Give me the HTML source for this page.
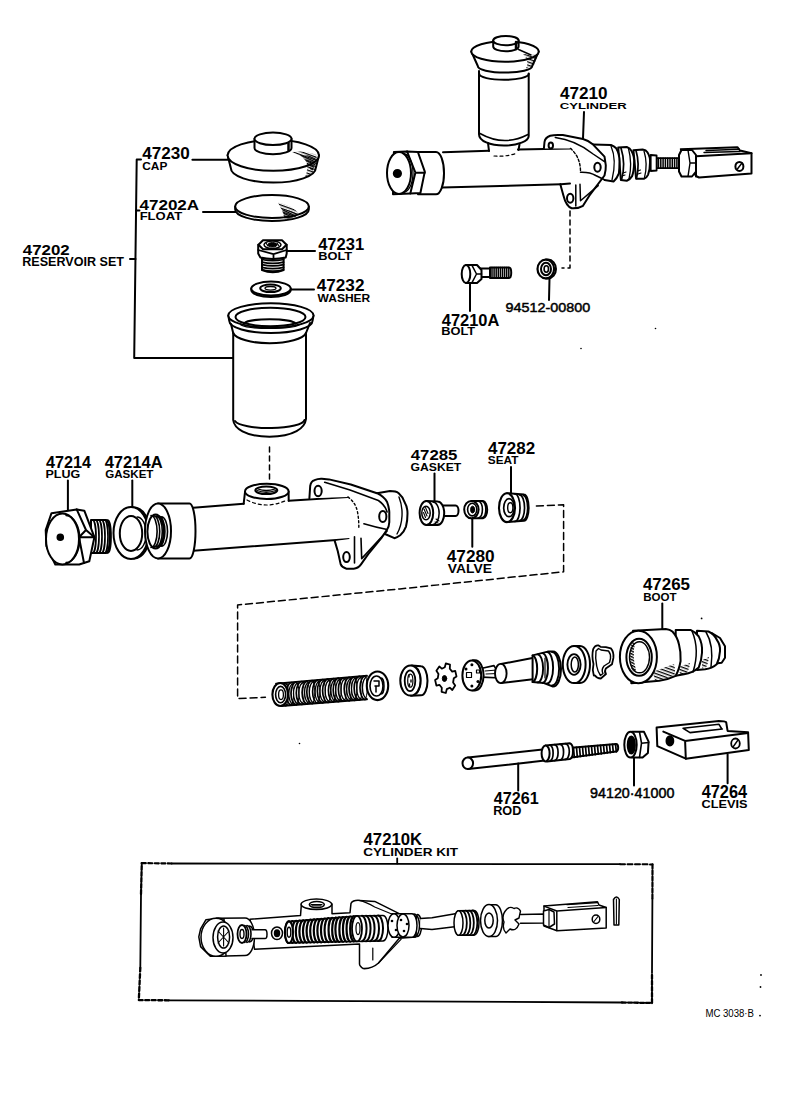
<!DOCTYPE html>
<html><head><meta charset="utf-8"><style>
html,body{margin:0;padding:0;background:#fff;}
svg{display:block;}
text{font-family:"Liberation Sans",sans-serif;fill:#000;}
</style></head><body>
<svg width="792" height="1098" viewBox="0 0 792 1098">
<defs>
<pattern id="h1" width="3" height="3" patternUnits="userSpaceOnUse" patternTransform="rotate(20)"><rect width="3" height="1.3" fill="#000"/></pattern>
<pattern id="h2" width="2.6" height="2.6" patternUnits="userSpaceOnUse" patternTransform="rotate(25)"><rect width="2.6" height="1.4" fill="#000"/></pattern>
<pattern id="d1" width="3" height="3" patternUnits="userSpaceOnUse"><rect x="0.5" y="0.5" width="1.2" height="1.2" fill="#000"/></pattern>
</defs>
<rect width="792" height="1098" fill="#fff"/>
<g fill="none" stroke="#000" stroke-width="2" stroke-linecap="round" stroke-linejoin="round">
<!-- ===== RESERVOIR SET (left column) ===== -->
<g id="bracket">
<path d="M141 159.6 H136.7 L134.2 358 H233"/>
<path d="M136.1 210.5 H139.5"/>
<path d="M130 259 H135.5"/>
<path d="M192.4 159.7 H228"/>
<path d="M203 212 H235.5"/>
<path d="M286.7 251 H315"/>
<path d="M290.7 289.6 H314"/>
</g>
<g id="cap">
<path d="M227.6 155.3 L230.8 168 A42.5 14.6 0 0 0 315.8 168 L319 155.3" fill="#fff"/>
<ellipse cx="273.3" cy="155.3" rx="45.7" ry="15.5" fill="#fff"/>
<path d="M254.5 138.8 V148 A18.5 6.2 0 0 0 291.5 148 V138.8" fill="#fff"/>
<ellipse cx="273" cy="138.8" rx="18.5" ry="6.2" fill="#fff"/>
<path d="M288.5 143 V150" stroke-width="2.5"/>
<path d="M292 152 Q305 150 316.5 155 Q318 163 314 172 Q310 176 305 177.5 Q309 168 306 160 Q300 155 292 152 Z" fill="url(#h1)" stroke="none"/>
<path d="M300 155 Q310 155 316 157 Q316 165 312 172 Q308 166 305 160 Z" fill="url(#h2)" stroke="none"/>
</g>
<g id="float">
<path d="M235.2 206.5 V209.5 A36.8 11.5 0 0 0 308.8 209.5 V206.5" fill="#fff"/>
<ellipse cx="272" cy="206.5" rx="36.8" ry="11.5" fill="#fff"/>
<path d="M278 202.5 Q291 205 299 213.5 Q297 218 285 219.5 Q283 211 278 202.5 Z" fill="url(#h1)" stroke="none"/>
<path d="M282 209 Q292 210 297.5 215 Q293 218.5 285 219 Z" fill="url(#h2)" stroke="none"/>
</g>
<g id="bolt47231">
<path d="M262 258 V270 Q272.8 274.5 283.6 270 V258" fill="#fff"/>
<path d="M262 259.5 Q272.8 262.0 283.6 259.5 M262 262.1 Q272.8 264.6 283.6 262.1 M262 264.7 Q272.8 267.2 283.6 264.7 M262 267.3 Q272.8 269.8 283.6 267.3 M262 269.9 Q272.8 272.4 283.6 269.9" stroke-width="1.7"/>
<path d="M258.2 244.8 V253.5 L260.4 257.5 Q272.5 260.5 285.7 257.5 L286.7 253.5 V244.8" fill="#fff"/>
<path d="M258.2 250 L273.5 254.2 L286.7 250 M273.5 254.2 V259" stroke-width="1.8"/>
<path d="M258.5 244.8 L263 240.3 L282 240.3 L286.5 244.8 L282 249.3 L263 249.3 Z" fill="#fff"/>
<ellipse cx="272.5" cy="244.8" rx="8.5" ry="3.8" stroke-width="1.5"/>
<ellipse cx="272.5" cy="244.8" rx="4.5" ry="2.2" fill="#000" stroke-width="1"/>
<path d="M266 243 l2 3 M277 243 l2 3" stroke-width="1.2"/>
</g>
<g id="washer47232">
<path d="M251.3 288.6 V290 A19.7 7 0 0 0 290.7 290 V288.6" fill="#fff"/>
<ellipse cx="271" cy="288.6" rx="19.7" ry="7" fill="#fff"/>
<ellipse cx="270.5" cy="288.3" rx="10.3" ry="3.8"/>
<ellipse cx="270.5" cy="288.3" rx="5.5" ry="1.8" stroke-width="1.3"/>
</g>
<g id="reservoir">
<path d="M228.3 315.5 L229.3 321 A41.5 12 0 0 0 312.5 321 L313.5 315.5" fill="#fff"/>
<ellipse cx="270.9" cy="315.5" rx="42.6" ry="12.2" fill="#fff"/>
<ellipse cx="270.5" cy="317" rx="35" ry="9.2"/>
<path d="M244 323.5 A26 5 0 0 1 295.5 323.5" />
<path d="M241 325 A30 4.5 0 0 0 299 325" stroke-width="1.4"/>
<path d="M231 324 L233.2 333 A36.8 12 0 0 0 306 333 L310 323"/>
<path d="M233.2 333 V420 C234 428 245 436.7 269.5 436.7 C294 436.7 305 428 306 419 V333"/>
<path d="M235 421 A35 8.5 0 0 0 304.5 420"/>
</g>
<path d="M269.5 447 V482" stroke-dasharray="5 4" stroke-width="1.5"/>
<!-- ===== MIDDLE: PLUG, GASKET, BODY ===== -->
<g id="leaders-mid">
<path d="M67.9 480.4 V510.7"/>
<path d="M132.3 480.4 V508"/>
<path d="M434.5 473.6 V501"/>
<path d="M511 467 V494.5"/>
<path d="M472.3 519.5 V546.8"/>
</g>
<g id="plug">
<path d="M91 520 H106 A4 16.5 0 0 1 106 553 H91 Z" fill="#fff"/>
<path d="M92.5 520 A3.5 16.5 0 0 1 92.5 553 M95.5 520 A3.5 16.5 0 0 1 95.5 553 M98.5 520 A3.5 16.5 0 0 1 98.5 553 M101.5 520 A3.5 16.5 0 0 1 101.5 553 M104.5 520 A3.5 16.5 0 0 1 104.5 553 M107.5 520 A3.5 16.5 0 0 1 107.5 553" stroke-width="1.7"/>
<path d="M51.5 513.2 L76.7 509.4 L84.3 510.7 L94.4 537.2 L89.3 561.2 L79.2 564.5 L55.3 564.5 L46.4 546 L45.7 530 Z" fill="#fff"/>
<ellipse cx="62.5" cy="539" rx="16.5" ry="25.5" fill="#fff"/>
<path d="M66 515.5 A13.5 23 0 0 1 66 562.5" stroke-width="1.4"/>
<path d="M79 537.2 H94.4 M76.7 509.4 L86 530 L79 537.2 M86 530 L94.4 537.2 M79 537.2 L84 563"/>
<circle cx="60.3" cy="537.2" r="2.8" fill="#000"/>
</g>
<g id="gasket47214A">
<ellipse cx="134" cy="533" rx="16" ry="25.5" fill="#fff"/>
<ellipse cx="131" cy="533" rx="17.5" ry="26" fill="#fff"/>
<ellipse cx="131" cy="533.4" rx="11.2" ry="17.5"/>
<path d="M137 517 A9 16 0 0 1 137 550" stroke-width="1.3"/>
</g>
<g id="body">
<path d="M190 508 L243.7 503.7 L245 493.6 L288.6 493 L288.7 500.8 L347.9 496.9 L349.4 539 L190 551 Z" fill="#fff" stroke="none"/>
<path d="M190 508 L243.7 503.7 M190 551 L349.4 539 M288.7 500.8 L347.9 496.9"/>
<path d="M243.7 503.7 L245 492 M288.6 491.6 L288.7 500.8"/>
<ellipse cx="266.8" cy="491.4" rx="21.8" ry="7.6" fill="#fff"/>
<ellipse cx="266.3" cy="490.3" rx="11" ry="3.8" fill="#fff"/>
<path d="M257 490.5 Q266 494 276 490.5 M258 489 Q266 492 275 489" stroke-width="1.3"/>
<path d="M247 500 Q266 510 287 500" stroke-dasharray="3 3" stroke-width="1.2"/>
<path d="M158 503.5 H189.5 A6 27.5 0 0 1 189.5 558.5 H158" fill="#fff"/>
<ellipse cx="158" cy="531" rx="13" ry="27.5" fill="#fff"/>
<ellipse cx="155.6" cy="531.5" rx="8.2" ry="17" fill="#fff"/>
<path d="M151.0 515.5 A6 15.7 0 0 1 151.0 547.5 M153.6 515.8 A6 15.4 0 0 1 153.6 547.2 M156.2 516.1 A6 15.1 0 0 1 156.2 546.9 M158.8 516.4 A6 14.8 0 0 1 158.8 546.6 M161.4 516.7 A6 14.5 0 0 1 161.4 546.3" stroke-width="1.6"/>
</g>
<g id="flange-mid">
<path d="M377 493.2 L390 491 Q396 491 398.7 493.2 Q403 497 404.5 502 Q407.5 507 407.5 513.6 Q407.5 521 406 526.6 Q404 532 400.2 535.3 Q397 537.5 394.4 538.2 L385 534 Z" fill="#fff"/>
<path d="M399 497 Q402.5 506 402 516 Q401.5 526 397 534" stroke-width="1.4"/>
<path d="M309.4 498.3 L310.2 486 Q311 481 314.5 480.2 Q318 478.5 321.8 478.7 L329 479.4 L350.8 484.5 L377 493.2 Q384 496.5 387.1 502 Q389 507 389.3 512 L389.3 522.3 Q389 527 387.1 529.5 L381.3 538.2 L368.2 554.2 L361 564.4 Q358 568.5 353.7 568.7 L346.5 568.7 Q342 567.5 340.7 564.4 L337.8 551.3 L334.8 541.1 L349.4 539 L347.9 496.9 Z" fill="#fff" stroke="none"/>
<path d="M309.4 498.3 L310.2 486 Q311 481 314.5 480.2 Q318 478.5 321.8 478.7 L329 479.4 L350.8 484.5 L377 493.2 Q384 496.5 387.1 502 Q389 507 389.3 512 L389.3 522.3 Q389 527 387.1 529.5 L381.3 538.2 L368.2 554.2 L361 564.4 Q358 568.5 353.7 568.7 L346.5 568.7 Q342 567.5 340.7 564.4 L337.8 551.3 L334.8 541.1"/>
<path d="M324.7 482.3 L350 490 L378.4 500.5 Q385 505 387.1 512" stroke-width="1.6"/>
<path d="M347.9 496.9 Q356 503 357.5 512 Q359 520 358.8 528.1" stroke-dasharray="2 2.5" stroke-width="1.4"/>
<path d="M363.9 523.7 Q375 527 387.1 529.5" stroke-width="1.6"/>
<path d="M361 538.2 L361.7 558.6 L387.1 531 M354.5 536.8 L354.5 563" stroke-width="1.6"/>
<ellipse cx="318.1" cy="491" rx="3.6" ry="5.2"/>
<ellipse cx="382.8" cy="516.5" rx="3.6" ry="5.5"/>
<ellipse cx="346.5" cy="557.1" rx="3.3" ry="5"/>
</g>
<g id="gasket47285">
<path d="M441 505.4 H455.5 A3 5.3 0 0 1 455.5 516 H441" fill="#fff"/>
<path d="M426.4 500.9 L437.7 501.6 A6.5 11.7 0 0 1 437.7 525 L426.4 525.1" fill="#fff"/>
<path d="M433 502 A6 11 0 0 1 433 524.5" stroke-width="1.5"/>
<ellipse cx="426.4" cy="513" rx="6.8" ry="12.1" fill="#fff"/>
<ellipse cx="426" cy="513" rx="4.2" ry="6.8" stroke-width="1.5"/>
<path d="M424 509 l3 7 M425.5 507.5 l2.5 6 M423.5 512.5 l2 5" stroke-width="1.1"/>
<path d="M436 519 l3 2 M435 522 l3 1" stroke-width="1.1"/>
</g>
<g id="valve47280">
<path d="M471.4 500.9 L483 501 A4.7 8.7 0 0 1 483 518.3 L471.4 518.3" fill="#fff"/>
<path d="M478.6 501.2 A4.5 8.5 0 0 1 478.6 518 M482 501.2 A4.5 8.5 0 0 1 482 518" stroke-width="1.6"/>
<ellipse cx="471.4" cy="509.6" rx="7.2" ry="8.7" fill="#fff"/>
<ellipse cx="472.2" cy="509.6" rx="4.6" ry="6.3" stroke-width="1.6"/>
<ellipse cx="472.6" cy="509.6" rx="2" ry="3.4" fill="#000" stroke-width="1"/>
</g>
<g id="seat47282">
<path d="M507 493.3 L524 494.5 A4.6 13 0 0 1 524 520.8 L507 522.1" fill="#fff"/>
<path d="M515 494 A5 13.6 0 0 1 515 521.4 M519.5 494.8 A5 12.8 0 0 1 519.5 520.6 M523.5 495.5 A4.6 12.3 0 0 1 523.5 520" stroke-width="1.7"/>
<ellipse cx="507" cy="507.7" rx="8" ry="14.4" fill="#fff" stroke-width="2.1"/>
<ellipse cx="509" cy="507.7" rx="5.3" ry="9" stroke-width="1.7"/>
<ellipse cx="510.3" cy="507.7" rx="2.6" ry="5" stroke-width="1.4"/>
</g>
<path d="M536.4 506 L563.6 504.8 L563.6 571.8 L400 588.9 L237.6 605 L237.6 698.6 L265.4 697.3" stroke-dasharray="7 4" stroke-width="1.5"/>
<!-- ===== SPRING / PISTON ROW ===== -->
<g id="spring"><path d="M275 683.8 L367 675.6 L367 699.4 L281.4 706 Z" fill="#fff" stroke="none"/>
<path d="M276 683.7 L367 675.6 M281.4 706 L367 699.4" stroke-width="1.8"/>
<path d="M286.0 683.0 A5.5 11.3 0 0 0 286.0 705.6" stroke-width="1.7"/>
<path d="M288.0 683.8 A5 10.5 0 0 0 288.0 704.8" stroke-width="1.3"/>
<path d="M286.0 683.0 A2.5 11.3 0 0 1 286.0 705.6" stroke-width="1"/>
<path d="M291.3 682.5 A5.5 11.4 0 0 0 291.3 705.2" stroke-width="1.7"/>
<path d="M293.3 683.3 A5 10.6 0 0 0 293.3 704.4" stroke-width="1.3"/>
<path d="M291.3 682.5 A2.5 11.4 0 0 1 291.3 705.2" stroke-width="1"/>
<path d="M296.5 682.0 A5.5 11.4 0 0 0 296.5 704.8" stroke-width="1.7"/>
<path d="M298.5 682.8 A5 10.6 0 0 0 298.5 704.0" stroke-width="1.3"/>
<path d="M296.5 682.0 A2.5 11.4 0 0 1 296.5 704.8" stroke-width="1"/>
<path d="M301.8 681.5 A5.5 11.4 0 0 0 301.8 704.4" stroke-width="1.7"/>
<path d="M303.8 682.3 A5 10.6 0 0 0 303.8 703.6" stroke-width="1.3"/>
<path d="M301.8 681.5 A2.5 11.4 0 0 1 301.8 704.4" stroke-width="1"/>
<path d="M307.1 681.1 A5.5 11.5 0 0 0 307.1 704.0" stroke-width="1.7"/>
<path d="M309.1 681.9 A5 10.7 0 0 0 309.1 703.2" stroke-width="1.3"/>
<path d="M307.1 681.1 A2.5 11.5 0 0 1 307.1 704.0" stroke-width="1"/>
<path d="M312.3 680.6 A5.5 11.5 0 0 0 312.3 703.6" stroke-width="1.7"/>
<path d="M314.3 681.4 A5 10.7 0 0 0 314.3 702.8" stroke-width="1.3"/>
<path d="M312.3 680.6 A2.5 11.5 0 0 1 312.3 703.6" stroke-width="1"/>
<path d="M317.6 680.1 A5.5 11.6 0 0 0 317.6 703.2" stroke-width="1.7"/>
<path d="M319.6 680.9 A5 10.8 0 0 0 319.6 702.4" stroke-width="1.3"/>
<path d="M317.6 680.1 A2.5 11.6 0 0 1 317.6 703.2" stroke-width="1"/>
<path d="M322.9 679.6 A5.5 11.6 0 0 0 322.9 702.8" stroke-width="1.7"/>
<path d="M324.9 680.4 A5 10.8 0 0 0 324.9 702.0" stroke-width="1.3"/>
<path d="M322.9 679.6 A2.5 11.6 0 0 1 322.9 702.8" stroke-width="1"/>
<path d="M328.1 679.2 A5.5 11.6 0 0 0 328.1 702.4" stroke-width="1.7"/>
<path d="M330.1 680.0 A5 10.8 0 0 0 330.1 701.6" stroke-width="1.3"/>
<path d="M328.1 679.2 A2.5 11.6 0 0 1 328.1 702.4" stroke-width="1"/>
<path d="M333.4 678.7 A5.5 11.7 0 0 0 333.4 702.0" stroke-width="1.7"/>
<path d="M335.4 679.5 A5 10.9 0 0 0 335.4 701.2" stroke-width="1.3"/>
<path d="M333.4 678.7 A2.5 11.7 0 0 1 333.4 702.0" stroke-width="1"/>
<path d="M338.7 678.2 A5.5 11.7 0 0 0 338.7 701.6" stroke-width="1.7"/>
<path d="M340.7 679.0 A5 10.9 0 0 0 340.7 700.8" stroke-width="1.3"/>
<path d="M338.7 678.2 A2.5 11.7 0 0 1 338.7 701.6" stroke-width="1"/>
<path d="M343.9 677.8 A5.5 11.7 0 0 0 343.9 701.2" stroke-width="1.7"/>
<path d="M345.9 678.6 A5 10.9 0 0 0 345.9 700.4" stroke-width="1.3"/>
<path d="M343.9 677.8 A2.5 11.7 0 0 1 343.9 701.2" stroke-width="1"/>
<path d="M349.2 677.3 A5.5 11.8 0 0 0 349.2 700.8" stroke-width="1.7"/>
<path d="M351.2 678.1 A5 11.0 0 0 0 351.2 700.0" stroke-width="1.3"/>
<path d="M349.2 677.3 A2.5 11.8 0 0 1 349.2 700.8" stroke-width="1"/>
<path d="M354.5 676.8 A5.5 11.8 0 0 0 354.5 700.4" stroke-width="1.7"/>
<path d="M356.5 677.6 A5 11.0 0 0 0 356.5 699.6" stroke-width="1.3"/>
<path d="M354.5 676.8 A2.5 11.8 0 0 1 354.5 700.4" stroke-width="1"/>
<path d="M359.7 676.3 A5.5 11.8 0 0 0 359.7 700.0" stroke-width="1.7"/>
<path d="M361.7 677.1 A5 11.0 0 0 0 361.7 699.2" stroke-width="1.3"/>
<path d="M359.7 676.3 A2.5 11.8 0 0 1 359.7 700.0" stroke-width="1"/>
<path d="M365.0 675.9 A5.5 11.9 0 0 0 365.0 699.6" stroke-width="1.7"/>
<path d="M367.0 676.7 A5 11.1 0 0 0 367.0 698.8" stroke-width="1.3"/>
<path d="M365.0 675.9 A2.5 11.9 0 0 1 365.0 699.6" stroke-width="1"/>
<ellipse cx="280.2" cy="694.5" rx="7.8" ry="11.5" fill="#fff" stroke-width="2.1"/>
<ellipse cx="280.6" cy="694.6" rx="5" ry="8.2" stroke-width="1.6"/>
<ellipse cx="281" cy="694.7" rx="2.4" ry="4.8" stroke-width="1.3"/>
<ellipse cx="377.5" cy="685.8" rx="10.7" ry="14.3" fill="#fff" stroke-width="2.1"/>
<ellipse cx="376.5" cy="686" rx="6.5" ry="10" stroke-width="1.6"/>
<path d="M374 681 h5 v5 h-4 M376 686 v6 M381 678 A3 8 0 0 1 381 694" stroke-width="1.5"/></g>
<g id="cup1">
<path d="M411.8 665.6 L421 666.3 A6.5 14.5 0 0 1 421 695.3 L411 695.7" fill="#fff"/>
<ellipse cx="410.5" cy="680.6" rx="10.2" ry="15" fill="#fff" stroke-width="2"/>
<ellipse cx="410" cy="680.7" rx="5.3" ry="10.4" stroke-width="1.8"/>
<ellipse cx="410.3" cy="680.7" rx="2.6" ry="6.5" stroke-width="1.2"/>
<path d="M409 675 v2 M411 680 v2 M409.5 684 v2" stroke-width="1.4"/>
<path d="M416 667 A6 14 0 0 1 416 694" stroke-width="1.2"/>
</g>
<g id="star">
<path d="M444.8 667.3 L445.8 663.4 L450.0 664.6 L449.8 668.7 L452.2 671.6 L455.2 670.8 L456.5 676.4 L453.8 678.2 L453.1 682.5 L455.2 685.6 L452.3 690.0 L449.8 687.7 L446.8 689.1 L445.8 693.0 L441.6 691.8 L441.8 687.7 L439.4 684.8 L436.4 685.6 L435.1 680.0 L437.8 678.2 L438.5 673.9 L436.4 670.8 L439.3 666.4 L441.8 668.7 Z" fill="#fff" stroke-width="1.8"/>
<ellipse cx="444.5" cy="678.5" rx="2.2" ry="3" fill="#000" stroke-width="1"/>
</g>
<g id="piston">
<path d="M482 668.3 L494 665.6 L501 678 L482 677.1" fill="#fff" stroke-width="1.6"/>
<path d="M485 671 L497 670 M486 674 L498 673.5" stroke-width="1"/>
<path d="M501 664 L535 657.5 L535 679 L501 683" fill="#fff"/>
<ellipse cx="500.8" cy="673.5" rx="5.8" ry="9.6" fill="#fff" stroke-width="1.9"/>
<path d="M472.8 660.3 L475 660.3 A8.6 15 0 0 1 475 690.4 L472.8 690.4" fill="#fff"/>
<ellipse cx="471.8" cy="675.4" rx="9.4" ry="15" fill="#fff" stroke-width="2"/>
<circle cx="471.9" cy="664.7" r="1.5" fill="#000" stroke="none"/>
<circle cx="466" cy="669" r="1.5" fill="#000" stroke="none"/>
<circle cx="478" cy="681.5" r="1.6" fill="#000" stroke="none"/>
<circle cx="471.9" cy="686" r="1.5" fill="#000" stroke="none"/>
<path d="M466.5 672.5 h5 v5 h-5 z M476.5 670 h3 v3 h-3 z" stroke-width="1.2"/>
</g>
<g id="piston-rings">
<path d="M532.6 655.4 L547.7 651.6 L553 651.6 A8 17.5 0 0 1 553 686.6 L544 683 L532.6 681.9 Z" fill="#fff"/>
<path d="M532.6 655.4 A5 13.3 0 0 1 532.6 681.9" stroke-width="2"/>
<path d="M537.6 654.4 A5.5 14 0 0 1 537.6 682.4 M542.7 653.2 A6 15 0 0 1 542.7 683 M547 652 A6 15.5 0 0 1 547 683.5 M552 652 A7 16.5 0 0 1 552 685.5" stroke-width="1.9"/>
<path d="M545 658 V678 M547.5 660 V676" stroke-width="1.2"/>
</g>
<g id="ring">
<path d="M574.2 645.9 L580 645.9 A10 18.6 0 0 1 580 683.1 L574.2 683.1" fill="#fff" stroke-width="2"/>
<ellipse cx="574.2" cy="664.5" rx="11.4" ry="18.6" fill="#fff" stroke-width="2"/>
<ellipse cx="574" cy="664.5" rx="6.6" ry="10.4" stroke-width="1.9"/>
<ellipse cx="574.8" cy="664.5" rx="3.6" ry="7.6" stroke-width="1.5"/>
</g>
<g id="snapring">
<path d="M593.2 649 Q595 645 598.2 645.3 L600.5 646.8 L605.8 647.1 L610.9 648.4 Q614 652 613.4 657.9 L612 664.2 L605.8 668.6 Q604 672 606 674 L600.8 678.5 Q597 678.5 595 675.5 L593.8 675.5 Q592 670 593.5 664 Q591.5 656 593.2 649 Z" stroke-width="1.8"/>
<path d="M596 651 L598.5 648.5 L601 650 L608.5 651 Q611 654 610.5 658.5 L609.5 662.5 L604 666 Q601 670 603 673.5 L600.5 675.5 Q597.5 671 596.7 666 Q595 658 596 651" stroke-width="1.4"/>
</g>
<g id="boot">
<path d="M711.8 633 L720 638 L725 646.3 L725 657.8 L721.7 662.7 L712 664" fill="#fff"/>
<path d="M697 630.7 L708.5 631.5 Q714.5 634.5 716.7 639.7 Q720.5 645 720 651.2 Q719.5 659 716.7 664.3 Q712 668.5 705.2 669.3 L697 670 Z" fill="#fff"/>
<path d="M706 632 Q714 645 711 667" stroke-width="1.5"/>
<path d="M675.7 629.9 L690.5 629.9 Q695.5 632 698.7 636.4 Q702.8 644 702 652.8 Q701.5 661 698.7 667.6 Q693 673 684 674.2 L675.7 675.8 Z" fill="#fff"/>
<path d="M692 631 Q700 650 693 672" stroke-width="1.5"/>
<path d="M633 630.7 L665.8 629 Q670 629.5 672.4 631.5 Q677.5 637 679 644.6 Q681 652 680.6 661 Q679 670 675.7 675.8 Q668 679.5 659.3 680.8 L631.3 683.2 Z" fill="#fff"/>
<ellipse cx="638.4" cy="657" rx="18.5" ry="26.3" fill="#fff" stroke-width="2"/>
<ellipse cx="639.1" cy="657.3" rx="12.7" ry="18.5" stroke-width="2"/>
<ellipse cx="639.5" cy="657.3" rx="10" ry="15.5" stroke-width="1.4"/>
<path d="M631.5 643 Q627.5 657 632 671 Q635 672 636 670 Q632 657 635 643 Q633 641 631.5 643 Z" fill="url(#h2)" stroke="none"/>
<path d="M652.7 672 Q663 668 674 664 Q676 672 674 676 Q665 679 655 680 Z" fill="url(#h1)" stroke="none"/>
<path d="M679 667 Q684 665 690 663 Q689 671 686 673.5 L680 674.5 Z" fill="url(#h1)" stroke="none"/>
<path d="M702 660 L709 657 Q708 664 706 667.5 L702 668.5 Z" fill="url(#h1)" stroke="none"/>
</g>
<path d="M662.3 603.6 V629"/>
<!-- ===== ROD / NUT / CLEVIS ===== -->
<g id="rod">
<path d="M468 757.6 L545 749.2 L545 760.6 L468 769" fill="#fff"/>
<ellipse cx="467.8" cy="763.3" rx="5.3" ry="5.7" fill="#fff"/>
<path d="M571.4 747.7 L616 744 A2.2 3.75 0 0 1 616 751.5 L571.4 757.6 Z" fill="#fff"/>
<path d="M573.5 747.5 L574.3 757.3 M576.5 747.3 L577.3 756.9 M579.5 747.1 L580.3 756.5 M582.5 746.8 L583.3 756.1 M585.5 746.6 L586.3 755.7 M588.5 746.3 L589.3 755.3 M591.5 746.1 L592.3 754.9 M594.5 745.9 L595.3 754.6 M597.5 745.6 L598.3 754.2 M600.5 745.4 L601.3 753.8 M603.5 745.1 L604.3 753.4 M606.5 744.9 L607.3 753.0 M609.5 744.6 L610.3 752.6 M612.5 744.4 L613.3 752.2 M615.5 744.2 L616.3 751.8" stroke-width="1.7"/>
<path d="M545.6 745.5 L569.8 743.2 Q573 744 573 751 Q573 758 569.8 759 L547 761.4 Z" fill="#fff"/>
<ellipse cx="545.6" cy="753.4" rx="4" ry="8" fill="#fff"/>
<path d="M550 745 A4 8.2 0 0 1 550 761 M554.7 744.6 A4 8.1 0 0 1 554.7 760.6 M560 744.1 A4 8 0 0 1 560 760 M565.3 743.6 A4 7.9 0 0 1 565.3 759.4" stroke-width="1.7"/>
<path d="M518.2 763.4 V790.4"/>
</g>
<g id="nut">
<path d="M632 731.8 L644 731.8 L648.6 741.7 L647.9 753 L642.6 757.6 L632 757.6 Z" fill="#fff"/>
<path d="M639.5 732 L641.5 743.2 L639.5 757.4 M641.5 743.2 L648.6 742.5" stroke-width="1.6"/>
<ellipse cx="630.5" cy="744.7" rx="6.2" ry="12.9" fill="#fff"/>
<ellipse cx="631.3" cy="745" rx="3.6" ry="8.5" fill="#000"/>
<path d="M634 758 V785.6"/>
</g>
<g id="clevis">
<path d="M656.6 727.6 L718.9 721 Q725 721 726.2 722.3 L727.6 730.9 L748.1 732.2 L748.8 750.1 L685.8 758.7 L657.3 746.2 Z" fill="#fff" stroke-width="2"/>
<path d="M685.1 740.9 L748.1 732.9 M685.1 740.9 L685.8 758.7 M663.3 731.6 L685.1 740.9" stroke-width="2"/>
<path d="M683.1 728.3 L719 724.3 L721.5 728.5 M683.1 728.3 L690 732.6 L722.3 729" stroke-width="1.6"/>
<ellipse cx="669.9" cy="740.9" rx="3.4" ry="4.7" fill="#000"/>
<ellipse cx="735.5" cy="743.5" rx="4.3" ry="5" stroke-width="1.8"/>
<path d="M733 747 L738 740" stroke-width="1.4"/>
<path d="M727.6 754.4 V783.2"/>
</g>
<!-- ===== TOP RIGHT ASSEMBLY ===== -->
<g id="top-tube">
<path d="M443 152.3 L570.4 148.4 L561 184.3 L442 187.5 Z" fill="#fff" stroke="none"/>
<path d="M443 152.3 L489 150.8 M518 149.6 L570.4 148.4 M442 187.5 L561 184.3"/>
</g>
<g id="top-res">
<path d="M479 71 V134.2 C479 141 490 145.5 504 145.5 C518 145.5 528.7 141 528.7 136 V73.5" fill="#fff"/>
<path d="M488 143 L489 151 M519.5 144.5 L518.5 150"/>
<path d="M480 133.5 Q504 147 528 134.5" stroke-width="1.6"/>
<path d="M494 156 Q505 157 516 153.5" stroke-dasharray="3 3" stroke-width="1.2"/>
<path d="M479.3 74 A24.7 5.8 0 0 0 528.7 74"/>
<path d="M471.3 51.5 L477.8 66 A27.2 6.6 0 0 0 532.2 66 L538.7 51.5" fill="#fff"/>
<ellipse cx="505" cy="51.5" rx="33.7" ry="10.3" fill="#fff"/>
<path d="M493.2 40.6 V46.6 A12.7 4.7 0 0 0 518.6 46.6 V40.6" fill="#fff"/>
<ellipse cx="505.9" cy="40.6" rx="12.7" ry="4.7" fill="#fff"/>
<path d="M516 42 V49" stroke-width="2.5"/>
<path d="M518.6 49.5 L531 55" stroke-width="1.4"/>
<path d="M523 54 Q531 55 537.5 55 L534 65 Q530 68 526 68.5 Q530 61 523 54 Z" fill="url(#h1)" stroke="none"/>
</g>
<g id="top-plug">
<path d="M417.9 152 H436 A8 21.1 0 0 1 436 194.3 H418 Z" fill="#fff"/>
<path d="M393.9 152 L407 151.4 L417.9 152 L424.8 171.6 L420.4 193 L410.3 193.6 L393 194.3 Z" fill="#fff"/>
<path d="M407 151.4 L415.4 172.5 L410.3 193.6 M415.4 172.8 H424.8"/>
<ellipse cx="399" cy="173" rx="12" ry="21" fill="#fff"/>
<path d="M403 153.5 A10 19.5 0 0 1 403 192.5" stroke-width="1.3"/>
<circle cx="397.4" cy="173.5" r="3.6" fill="#000"/>
</g>
<g id="top-boot">
<path d="M633.4 150.2 L642.7 149.6 Q646 150 647.4 152.2 Q650.5 157 650 162.8 Q650 170 648 174.8 Q646.5 178 644 178.7 L636.1 178.7 Z" fill="#fff" stroke-width="2"/>
<path d="M636 150.5 Q640 164 636.5 178.5" stroke-width="1.7"/>
<path d="M644 151 Q648 164 644.5 177.5" stroke-width="1.3"/>
<path d="M637.5 171 l3 -1 M638 174 l3 -1" stroke-width="1.1"/>
<path d="M618.2 147.6 L626.8 147 Q630 148 631.5 150.9 Q634.5 156 634.1 162.8 Q634 171 632.1 176.1 Q630 179.5 626.8 180.7 L620.9 180 Z" fill="#fff" stroke-width="2"/>
<path d="M621 148 Q626 164 621.5 180" stroke-width="1.7"/>
<path d="M628.5 148.5 Q632.5 164 629 179" stroke-width="1.3"/>
<path d="M622 176 l3 -1 M623 173 l3 -1" stroke-width="1.1"/>
<path d="M593 144.6 L611 145 Q614 146 616.2 148.3 Q619.5 154 619.5 161.5 Q619.5 168 618.9 173.4 Q617 178.5 613.6 181.4 L604.5 180" fill="#fff" stroke-width="2"/>
<path d="M611 146 Q617 160 612 180" stroke-width="1.3"/>
</g>
<g id="top-flange">
<path d="M543.9 148.4 L544.5 142 Q545 137.5 550.2 135.7 Q555 134.5 562.8 135.1 L583 138.9 Q588 140 593.1 144.6 L604.5 156.6 L605.8 165.4 Q606 170 604.5 175.5 L589.3 195.7 L583 205.8 Q578 208.8 571.7 208.3 Q566 206 563.5 195.7 L560.3 184.3 L561 184.3 L570.4 148.4 Z" fill="#fff" stroke="none"/>
<path d="M543.9 148.4 L544.5 142 Q545 137.5 550.2 135.7 Q555 134.5 562.8 135.1 L583 138.9 Q588 140 593.1 144.6 L604.5 156.6 L605.8 165.4 Q606 170 604.5 175.5 L589.3 195.7 L583 205.8 Q578 208.8 571.7 208.3 Q566 206 563.5 195.7 L560.3 184.3"/>
<path d="M555.3 137.6 Q575 140 593.1 154 L604.5 161.6" stroke-width="1.5"/>
<path d="M570.4 148.4 Q580.5 157 580.5 171.7" stroke-dasharray="2.5 2" stroke-width="1.4"/>
<path d="M580.5 172.3 Q590 172 595.7 175.5 L604 179.5" stroke-width="1.5"/>
<path d="M580 184.3 L580.5 200.8 L598.2 185.6 M575.8 185 V206" stroke-width="1.5"/>
<path d="M561 184.3 L570 183.5" />
<ellipse cx="550.8" cy="145.5" rx="2.2" ry="3"/>
<ellipse cx="597.5" cy="167.3" rx="3.2" ry="4.5"/>
<ellipse cx="570.2" cy="198.2" rx="3.2" ry="4.5"/>
</g>
<g id="top-rodclevis">
<path d="M656.6 158.2 L685 158.2 L685 168.1 L656.6 168.1 Z" fill="#fff" stroke-width="1.8"/>
<path d="M658.5 158.2 v9.9 M660.8 158.2 v9.9 M663.1 158.2 v9.9 M665.4 158.2 v9.9 M667.7 158.2 v9.9 M670.0 158.2 v9.9 M672.3 158.2 v9.9 M674.6 158.2 v9.9 M676.9 158.2 v9.9 M679.2 158.2 v9.9 M681.5 158.2 v9.9 M683.8 158.2 v9.9" stroke-width="1.5"/>
<path d="M650.7 155 L656.6 155.5 L656.6 170.5 L650.7 171 Z" fill="#fff" stroke-width="1.8"/>
<path d="M680.8 149.2 L737.4 147.2 L740 150.5 L751.5 153.2 L751.5 173.4 L699 177.5 L696 176 Z" fill="#fff"/>
<path d="M696 156.3 L751.5 153.2 M696 156.3 V176.5"/>
<path d="M706 150.5 L739.4 149.3 M704 152.5 L740 151.5" stroke-width="1.4"/>
<path d="M681.5 150 L692 150 L696 155 L696 171.5 L692 176.5 L681.5 176.5 L679 171.5 L679 155 Z" fill="#fff"/>
<path d="M688 150.2 L690 163 L688 176.3 M690 163 H696" stroke-width="1.4"/>
<ellipse cx="739.4" cy="166.4" rx="4" ry="4.5"/>
<path d="M737 169.5 L742 163" stroke-width="1.4"/>
</g>
<path d="M584 112 L583 138.5"/>
<path d="M570 211 V268 H562" stroke-dasharray="5 4" stroke-width="1.5"/>
<g id="bolt47210A">
<path d="M490 267.5 L509 267.5 A2.2 5.2 0 0 1 509 278 L490 278 Z" fill="#fff"/>
<path d="M492.0 267.5 v10.5 M494.1 267.5 v10.5 M496.2 267.5 v10.5 M498.3 267.5 v10.5 M500.4 267.5 v10.5 M502.5 267.5 v10.5 M504.6 267.5 v10.5 M506.7 267.5 v10.5 M508.8 267.5 v10.5" stroke-width="1.5"/>
<path d="M480 268.5 L490 268.5 L490 277 L480 277" fill="#fff"/>
<path d="M466 265 L477 265 L481.5 270 L481.5 279 L477 283 L466 283 Z" fill="#fff"/>
<path d="M472 265.3 L476.5 274 L472 282.7 M476.5 274 H481.5" stroke-width="1.5"/>
<ellipse cx="466" cy="274" rx="4.3" ry="9" fill="#fff"/>
<path d="M470 283 V311"/>
</g>
<g id="washer94512">
<path d="M546 259.6 H548 A8 9.4 0 0 1 548 278.4 H546" fill="#fff"/>
<ellipse cx="545.8" cy="269" rx="8.3" ry="9.4" fill="#fff" stroke-width="2.2"/>
<ellipse cx="546" cy="269" rx="5" ry="6.2" stroke-width="2"/>
<ellipse cx="546.3" cy="269" rx="2.2" ry="3.2" stroke-width="1.6"/>
<path d="M549.5 278.4 L549 300"/>
</g>
<!-- ===== CYLINDER KIT ===== -->
<g id="kitbox" stroke-width="1.8">
<path d="M141.8 863.1 L171.6 863.5" stroke-dasharray="4 2.5" stroke-width="2.2"/>
<path d="M171.6 863.5 L620 864.2"/>
<path d="M620 864.2 L652.5 864.4" stroke-dasharray="5 2.5" stroke-width="2"/>
<path d="M652.5 864.4 L652.4 899" stroke-dasharray="4 2" stroke-width="2.2"/>
<path d="M652.4 899 L652 973"/>
<path d="M652 975 L652 1003 L622 1002.5" stroke-dasharray="4 2" stroke-width="2.3"/>
<path d="M622 1002.5 L168.7 1000.3"/>
<path d="M168.7 1000.3 L138.8 1000.1 L140.3 968" stroke-dasharray="4 2.5" stroke-width="2.3"/>
<path d="M140.3 968 L141 894"/>
<path d="M141 894 L141.8 863.1" stroke-dasharray="4 2" stroke-width="2.3"/>
<path d="M397.2 858.4 V863.5"/>
</g>
<g stroke="none" fill="#000">
<circle cx="761" cy="975" r="0.9"/><circle cx="760.5" cy="987" r="0.9"/><circle cx="760" cy="1015.6" r="0.9"/>
<circle cx="701.6" cy="618.4" r="0.9"/><circle cx="655.5" cy="328.5" r="0.8"/><circle cx="581" cy="348.5" r="0.8"/><circle cx="299.5" cy="743.5" r="0.8"/>
</g>
<g id="kit" stroke-width="1.5">
<!-- tube -->
<path d="M250 919.2 L300.5 915.6 L301.4 904.1 L332 904.1 L332 913.7 L350 912.7 L351 903.3 Q353 900 359.5 900.4 L374.7 901.4 L401.2 914.6 L416.4 916.5 L416 937 L399.3 938.3 L378.5 963 Q372 969 363.3 968.6 Q359.5 966 359.5 963.9 L359.5 944 L254.5 949.2 Z" fill="#fff"/>
<path d="M300.5 915.6 L332 913.7" stroke="none"/>
<ellipse cx="316.4" cy="904.3" rx="15.3" ry="5.2" fill="#fff"/>
<ellipse cx="316.8" cy="904.6" rx="7.5" ry="3.2" stroke-width="1.5"/>
<path d="M311 904.6 h11 M312 906 h9" stroke-width="1.1"/>
<path d="M359.5 900.4 Q366 902 374.7 907 L399 917" stroke-width="1.2"/>
<path d="M372.8 948 V960 M378.5 963 L401.2 939.2" stroke-width="1.2"/>
<!-- end cap -->
<path d="M216.5 918.3 L245 918 A9.5 18.8 0 0 1 245 955.6 L216.5 956.3 Z" fill="#fff"/>
<path d="M200.6 928.9 L206 919.7 L218.3 918.3 L224 919 L226 956 L210.3 956.3 L200.6 946.6 L198.8 936.8 Z" fill="#fff"/>
<ellipse cx="216" cy="937.3" rx="15" ry="19" fill="#fff"/>
<ellipse cx="223" cy="937.5" rx="10" ry="15.5" fill="#fff"/>
<ellipse cx="223.6" cy="937" rx="6" ry="11"/>
<path d="M218 931 L229 943 M218 943 L229 931 M223.6 928 V946" stroke-width="1.1"/>
<ellipse cx="242" cy="934" rx="4.5" ry="9" fill="#fff" stroke-width="1.8"/>
<path d="M244.5 925.5 A4 8.5 0 0 1 244.5 942.5 M247 925.5 A4 8.5 0 0 1 247 942.5 M249.5 926 A4 8 0 0 1 249.5 942" stroke-width="1.6"/>
<ellipse cx="242" cy="934" rx="2" ry="4.5" stroke-width="1.4"/>
<path d="M252 929.8 L265 929.8 A2 4.4 0 0 1 265 938.6 L252 938.6" fill="#fff"/>
<ellipse cx="277" cy="933.2" rx="5.5" ry="6.3" fill="#fff"/>
<ellipse cx="277" cy="933.2" rx="2.5" ry="3.3" fill="#000"/>
<!-- spring -->
<path d="M288 921.5 L356 916 L356 941.5 L288 943 Z" fill="#fff"/>
<path d="M289.0 921.4 A4 10.8 0 0 0 289.0 943.0 M292.6 921.1 A4 10.9 0 0 0 292.6 942.9 M296.2 920.8 A4 11.0 0 0 0 296.2 942.8 M299.8 920.5 A4 11.1 0 0 0 299.8 942.7 M303.4 920.3 A4 11.2 0 0 0 303.4 942.7 M307.0 920.0 A4 11.3 0 0 0 307.0 942.6 M310.6 919.7 A4 11.4 0 0 0 310.6 942.5 M314.2 919.4 A4 11.5 0 0 0 314.2 942.4 M317.8 919.1 A4 11.6 0 0 0 317.8 942.3 M321.4 918.8 A4 11.7 0 0 0 321.4 942.3 M325.0 918.5 A4 11.8 0 0 0 325.0 942.2 M328.6 918.2 A4 11.9 0 0 0 328.6 942.1 M332.2 917.9 A4 12.1 0 0 0 332.2 942.0 M335.8 917.6 A4 12.2 0 0 0 335.8 941.9 M339.4 917.3 A4 12.3 0 0 0 339.4 941.9 M343.0 917.1 A4 12.4 0 0 0 343.0 941.8 M346.6 916.8 A4 12.5 0 0 0 346.6 941.7 M350.2 916.5 A4 12.6 0 0 0 350.2 941.6 M353.8 916.2 A4 12.7 0 0 0 353.8 941.5" stroke-width="2.2"/>
<ellipse cx="289" cy="932.3" rx="4" ry="10.8" fill="#fff" stroke-width="2"/>
<ellipse cx="289" cy="932.3" rx="1.8" ry="5" stroke-width="1.4"/>
<!-- piston rings -->
<path d="M356 916 L383 915.6 A5 12.7 0 0 1 383 941 L356 941.5 Z" fill="#fff"/>
<ellipse cx="357" cy="928.6" rx="5" ry="12.8" fill="#fff" stroke-width="1.8"/>
<path d="M362 915.8 A5 12.8 0 0 1 362 941.3 M366 915.8 A5 12.8 0 0 1 366 941.3 M370 915.7 A5 12.8 0 0 1 370 941.2 M374 915.7 A5 12.7 0 0 1 374 941.1 M378 915.6 A5 12.7 0 0 1 378 941.1" stroke-width="2"/>
<ellipse cx="358" cy="928.6" rx="2" ry="6" stroke-width="1.2"/>
<!-- piston head -->
<path d="M392 913.7 L412 913.7 A5 11.8 0 0 1 412 937.3 L392 937.3 Z" fill="#fff"/>
<ellipse cx="394" cy="925.5" rx="6" ry="11.8" fill="#fff"/>
<ellipse cx="403" cy="925.5" rx="6" ry="11.5" fill="#fff"/>
<path d="M414 914 A5.5 11.5 0 0 1 414 937 M417.5 914.5 A4 11 0 0 1 417.5 936.5" stroke-width="1.5"/>
<circle cx="392" cy="921" r="1.3" fill="#000" stroke="none"/>
<circle cx="396" cy="930" r="1.3" fill="#000" stroke="none"/>
<circle cx="401" cy="920" r="1.3" fill="#000" stroke="none"/>
<circle cx="404" cy="931" r="1.3" fill="#000" stroke="none"/>
<circle cx="407" cy="924" r="1.3" fill="#000" stroke="none"/>
<!-- rod -->
<path d="M420.3 918.5 L432 917.8 L456.6 913.4 L456.6 926.5 L432 929.4 L420.3 928.5" fill="#fff"/>
<!-- cups -->
<path d="M458 910.8 L474 910.5 A5 12.3 0 0 1 474 935.2 L458 935.2 Z" fill="#fff"/>
<ellipse cx="458.5" cy="923" rx="4.5" ry="12.2" fill="#fff"/>
<path d="M462 910.8 A4.8 12.2 0 0 1 462 935.2 M465.5 910.7 A4.8 12.2 0 0 1 465.5 935.2 M469 910.6 A4.8 12.2 0 0 1 469 935.1 M472.5 910.5 A4.8 12.2 0 0 1 472.5 935.1" stroke-width="1.8"/>
<!-- ring -->
<path d="M488 904.7 L496 904.7 A7 16 0 0 1 496 936.6 L488 936.6 Z" fill="#fff"/>
<ellipse cx="489" cy="920.6" rx="8.5" ry="16" fill="#fff"/>
<ellipse cx="489" cy="920.5" rx="4.2" ry="7.5"/>
<!-- snap ring -->
<path d="M507 909 Q510 906 514 908.5 Q518 906.5 520.5 911 L519 918 L515 920 L519 924 Q516 932 510 929 L506 933 Q502 929 504 922 Q501 915 507 909 Z" fill="none" stroke-width="1.4"/>
<!-- rod to clevis -->
<path d="M520.5 914.5 L545 914 L545 923 L520.5 923.3" fill="#fff"/>
<!-- clevis -->
<path d="M544 906.1 L597.5 901.8 L599 905 L606.2 907.5 L606.2 928 L557 930.8 L544 926 Z" fill="#fff"/>
<path d="M556.8 911 L606.2 907.5 M556.8 911 V930.5 M544 906.1 L556.8 911"/>
<path d="M543.5 911 L549 909.5 L554 912 L554.5 924 L549 927.5 L543.5 925 Z" fill="#fff" stroke-width="1.5"/>
<path d="M549 909.5 V927.5" stroke-width="1.2"/>
<path d="M567 904.7 L597.5 902.6 M568 907.5 L598 905.5" stroke-width="1.2"/>
<ellipse cx="596" cy="919.2" rx="3.8" ry="4.2"/>
<path d="M594 921.5 L598 916.5" stroke-width="1.2"/>
<!-- pin -->
<path d="M613.5 899.5 Q616.5 894.5 619.3 899.5 L618.8 925 L614 925 Z" fill="#fff"/>
<path d="M616.4 899 L616.4 924" stroke-width="1.1"/>
</g>

</g>
<g>
<text transform="translate(142.14,159.24) scale(1.056,1)" font-size="16.20" font-weight="bold">47230</text>
<text transform="translate(142.22,169.70) scale(1.143,1)" font-size="10.42" font-weight="bold">CAP</text>
<text transform="translate(139.44,209.85) scale(1.102,1)" font-size="15.49" font-weight="bold">47202A</text>
<text transform="translate(139.65,220.19) scale(1.171,1)" font-size="11.13" font-weight="bold">FLOAT</text>
<text transform="translate(22.75,255.15) scale(1.120,1)" font-size="15.07" font-weight="bold">47202</text>
<text transform="translate(22.18,266.48) scale(1.040,1)" font-size="12.11" font-weight="bold">RESERVOIR SET</text>
<text transform="translate(318.15,250.04) scale(1.050,1)" font-size="15.77" font-weight="bold">47231</text>
<text transform="translate(318.17,260.20) scale(1.249,1)" font-size="10.28" font-weight="bold">BOLT</text>
<text transform="translate(316.74,291.44) scale(1.099,1)" font-size="15.63" font-weight="bold">47232</text>
<text transform="translate(317.60,301.59) scale(1.052,1)" font-size="11.41" font-weight="bold">WASHER</text>
<text transform="translate(559.94,99.33) scale(0.999,1)" font-size="17.18" font-weight="bold">47210</text>
<text transform="translate(559.67,108.50) scale(1.373,1)" font-size="9.58" font-weight="bold">CYLINDER</text>
<text transform="translate(441.75,325.64) scale(1.008,1)" font-size="16.34" font-weight="bold">47210A</text>
<text transform="translate(441.17,334.90) scale(1.249,1)" font-size="10.28" font-weight="bold">BOLT</text>
<text transform="translate(505.60,311.62) scale(1.074,1)" font-size="13.38" font-weight="normal" stroke="#000" stroke-width="0.47">94512-00800</text>
<text transform="translate(45.96,467.70) scale(1.021,1)" font-size="15.86" font-weight="bold">47214</text>
<text transform="translate(45.39,478.08) scale(1.085,1)" font-size="11.55" font-weight="bold">PLUG</text>
<text transform="translate(104.65,467.70) scale(1.046,1)" font-size="15.86" font-weight="bold">47214A</text>
<text transform="translate(105.24,478.08) scale(1.002,1)" font-size="11.55" font-weight="bold">GASKET</text>
<text transform="translate(410.75,460.05) scale(1.157,1)" font-size="14.51" font-weight="bold">47285</text>
<text transform="translate(410.51,471.09) scale(1.083,1)" font-size="11.27" font-weight="bold">GASKET</text>
<text transform="translate(487.95,453.54) scale(1.058,1)" font-size="16.06" font-weight="bold">47282</text>
<text transform="translate(487.85,464.29) scale(1.048,1)" font-size="11.27" font-weight="bold">SEAT</text>
<text transform="translate(446.74,561.53) scale(1.004,1)" font-size="17.18" font-weight="bold">47280</text>
<text transform="translate(447.86,572.70) scale(1.138,1)" font-size="12.17" font-weight="bold">VALVE</text>
<text transform="translate(642.95,590.13) scale(0.992,1)" font-size="17.04" font-weight="bold">47265</text>
<text transform="translate(643.25,600.59) scale(1.028,1)" font-size="11.27" font-weight="bold">BOOT</text>
<text transform="translate(493.76,803.83) scale(0.965,1)" font-size="16.76" font-weight="bold">47261</text>
<text transform="translate(493.17,814.68) scale(1.062,1)" font-size="11.97" font-weight="bold">ROD</text>
<text transform="translate(590.01,797.81) scale(0.997,1)" font-size="14.37" font-weight="normal" stroke="#000" stroke-width="0.50">94120·41000</text>
<text transform="translate(701.76,798.02) scale(0.904,1)" font-size="18.03" font-weight="bold">47264</text>
<text transform="translate(701.49,807.78) scale(1.102,1)" font-size="11.55" font-weight="bold">CLEVIS</text>
<text transform="translate(363.55,844.74) scale(1.015,1)" font-size="16.48" font-weight="bold">47210K</text>
<text transform="translate(363.26,855.78) scale(1.172,1)" font-size="11.55" font-weight="bold">CYLINDER KIT</text>
<text transform="translate(705.43,1016.50) scale(0.960,1)" font-size="10.00" font-weight="normal">MC 3038·B</text>
</g>
</svg>
</body></html>
